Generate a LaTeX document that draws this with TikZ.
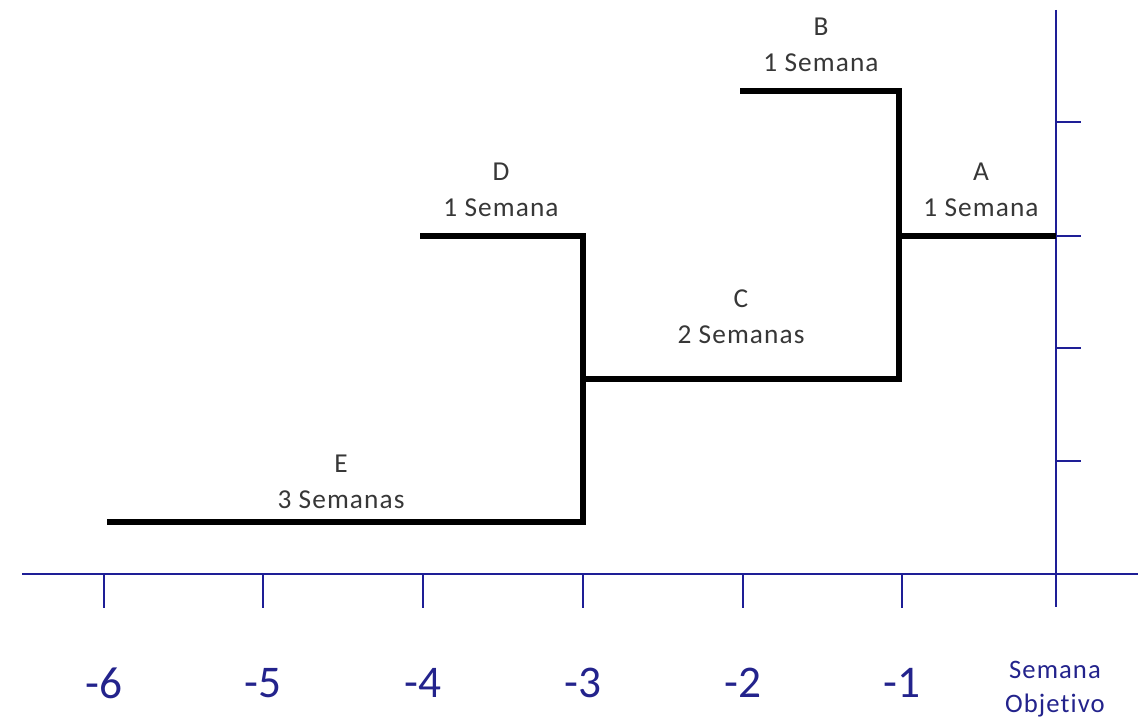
\documentclass[tikz,border=0pt]{standalone}
\usepackage{fontspec}
\setmainfont{Carlito}
\newfontfamily\lblfont[LetterSpace=4,Ligatures=NoCommon]{Carlito}
\usepackage{tikz}
\usetikzlibrary{positioning}
\definecolor{axisB}{RGB}{30,30,150}
\definecolor{numB}{RGB}{35,35,140}
\definecolor{taskK}{RGB}{55,55,55}

\begin{document}
\begin{tikzpicture}[
  x=0.75pt, y=-0.75pt,
  axis/.style={draw=axisB, line width=1.5pt},
  tick/.style={draw=axisB, line width=1.3pt},
  act/.style={draw=black, line width=4.6pt, line join=miter},
  lbl/.style={align=center, text=taskK, inner sep=0pt,
              font=\lblfont\fontsize{20.5}{27}\selectfont},
  num/.style={text=numB, inner sep=0pt, font=\fontsize{34}{40}\selectfont}]

  \useasboundingbox (0,0) rectangle (1147,720);

  % axes
  \coordinate (xl) at (22,574);
  \coordinate (xr) at (1138,574);
  \coordinate (yt) at (1056,10);
  \coordinate (yb) at (1056,607);
  \draw[axis] (xl) -- (xr);
  \draw[axis] (yt) -- (yb);

  % week ticks and numbers
  \foreach \x/\w in {104/-6, 263/-5, 423/-4, 583/-3, 743/-2, 902/-1} {
    \coordinate (t\w) at (\x,574);
    \draw[tick] (t\w) -- ++(0,34);
    \node[num] (n\w) at (\x,683) {\w};
  }
  \node[text=numB, align=center, inner sep=0pt,
        font=\lblfont\fontsize{20}{25.5}\selectfont] (goal) at (1055,689)
    {Semana\\Objetivo};

  % level ticks on the right
  \foreach \y in {122,236,348,461}
    \draw[tick] (1056,\y) -- ++(25,0);

  % activity steps
  \coordinate (d0) at (420,236);
  \coordinate (d1) at (583,236);
  \coordinate (e1) at (583,522);
  \coordinate (e0) at (107,522);
  \coordinate (b0) at (740,91);
  \coordinate (b1) at (899,91);
  \coordinate (c1) at (899,379);
  \coordinate (c0) at (583,379);
  \coordinate (a0) at (899,236);
  \coordinate (a1) at (1056,236);
  \draw[act] (d0) -- (d1) -- (e1) -- (e0);
  \draw[act] (b0) -- (b1) -- (c1) -- (c0);
  \draw[act] (a0) -- (a1);

  \node[lbl] (lb) at (821,45) {B\\1 Semana};
  \node[lbl] (ld) at (501,190) {D\\1 Semana};
  \node[lbl] (la) at (981,190) {A\\1 Semana};
  \node[lbl] (lc) at (741,317) {C\\2 Semanas};
  \node[lbl] (le) at (341,482) {E\\3 Semanas};
\end{tikzpicture}
\end{document}
